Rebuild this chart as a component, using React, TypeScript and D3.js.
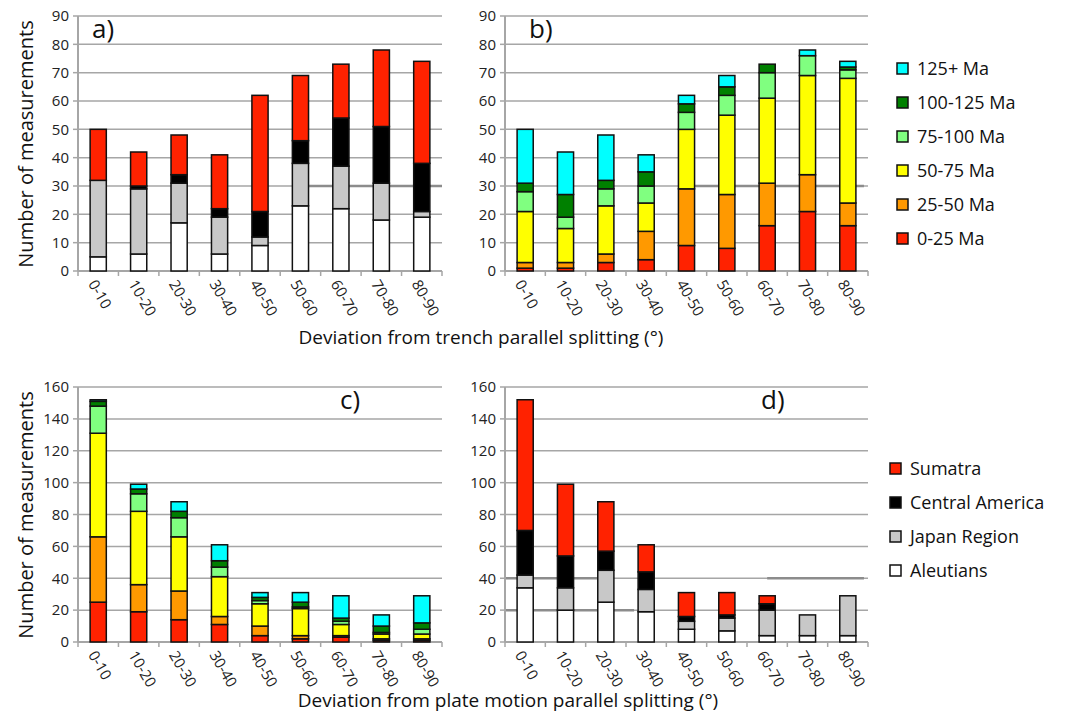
import React from "react";
import * as d3 from "d3";

// bins of deviation angle
const bins = ["0-10", "10-20", "20-30", "30-40", "40-50", "50-60", "60-70", "70-80", "80-90"];

// panel a: trench parallel, by region
const aleutiansA = [5, 6, 17, 6, 9, 23, 22, 18, 19];
const japanA = [27, 23, 14, 13, 3, 15, 15, 13, 2];
const centralAmericaA = [0, 1, 3, 3, 9, 8, 17, 20, 17];
const sumatraA = [18, 12, 14, 19, 41, 23, 19, 27, 36];

// panel b: trench parallel, by slab age
const age0_25B = [1, 1, 3, 4, 9, 8, 16, 21, 16];
const age25_50B = [2, 2, 3, 10, 20, 19, 15, 13, 8];
const age50_75B = [18, 12, 17, 10, 21, 28, 30, 35, 44];
const age75_100B = [7, 4, 6, 6, 6, 7, 9, 7, 3];
const age100_125B = [3, 8, 3, 5, 3, 3, 3, 0, 1];
const age125B = [19, 15, 16, 6, 3, 4, 0, 2, 2];

// panel c: plate motion parallel, by slab age
const age0_25C = [25, 19, 14, 11, 4, 2, 3, 1, 1];
const age25_50C = [41, 17, 18, 5, 6, 2, 1, 1, 1];
const age50_75C = [65, 46, 34, 25, 14, 17, 7, 3, 3];
const age75_100C = [17, 11, 12, 6, 2, 1, 2, 1, 3];
const age100_125C = [3, 3, 4, 4, 2, 3, 2, 4, 4];
const age125C = [1, 3, 6, 10, 3, 6, 14, 7, 17];

// panel d: plate motion parallel, by region
const aleutiansD = [34, 20, 25, 19, 8, 7, 4, 4, 4];
const japanD = [8, 14, 20, 14, 5, 8, 16, 13, 25];
const centralAmericaD = [28, 20, 12, 11, 3, 2, 4, 0, 0];
const sumatraD = [82, 45, 31, 17, 15, 14, 5, 0, 0];

const ageLabels = ["0-25 Ma", "25-50 Ma", "50-75 Ma", "75-100 Ma", "100-125 Ma", "125+ Ma"];
const ageColors = ["#ff2200", "#ff9900", "#ffff00", "#80ff80", "#008000", "#00ffff"];
const regionLabels = ["Aleutians", "Japan Region", "Central America", "Sumatra"];
const regionColors = ["#ffffff", "#c8c8c8", "#000000", "#ff2200"];

const FONT = "'Open Sans', sans-serif";

type Series = { key: string; values: number[]; color: string };

const mk = (labels: string[], colors: string[], vals: number[][]): Series[] =>
  labels.map((key, i) => ({ key, values: vals[i], color: colors[i] }));

const seriesA = mk(regionLabels, regionColors, [aleutiansA, japanA, centralAmericaA, sumatraA]);
const seriesB = mk(ageLabels, ageColors, [age0_25B, age25_50B, age50_75B, age75_100B, age100_125B, age125B]);
const seriesC = mk(ageLabels, ageColors, [age0_25C, age25_50C, age50_75C, age75_100C, age100_125C, age125C]);
const seriesD = mk(regionLabels, regionColors, [aleutiansD, japanD, centralAmericaD, sumatraD]);

function Panel({ left, top, width, height, yMax, yStep, series, label, labelX, stray }: {
  left: number; top: number; width: number; height: number; yMax: number; yStep: number;
  series: Series[]; label: string; labelX: number; stray: [number, number, number][];
}) {
  const x = d3.scaleBand().domain(bins).range([0, width]).paddingInner(0.6).paddingOuter(0.3);
  const step = width / bins.length;
  const y = d3.scaleLinear().domain([0, yMax]).range([height, 0]);
  const rows = bins.map((b, i) => {
    const r: any = { bin: b };
    series.forEach((s) => (r[s.key] = s.values[i]));
    return r;
  });
  const stack = d3.stack().keys(series.map((s) => s.key))(rows);
  const ticks = d3.range(0, yMax + 1, yStep);
  return (
    <g transform={`translate(${left},${top})`}>
      {ticks.map((t) => (
        <g key={t}>
          {t > 0 && <line x1={0} x2={width} y1={y(t)} y2={y(t)} stroke="#a6a6a6" strokeWidth={1.5} />}
          <line x1={-5} x2={0} y1={y(t)} y2={y(t)} stroke="#a6a6a6" strokeWidth={1.5} />
          <text x={-9} y={y(t)} dy="0.35em" textAnchor="end" fontSize={15} fontFamily={FONT} fill="#222">{t}</text>
        </g>
      ))}
      {stray.map(([v, a, b], i) => (
        <line key={i} x1={a * step} x2={b * step} y1={y(v)} y2={y(v)} stroke="#8c8c8c" strokeWidth={2.5} />
      ))}
      <line x1={0} x2={0} y1={0} y2={height} stroke="#a6a6a6" strokeWidth={2} />
      <line x1={0} x2={width} y1={height} y2={height} stroke="#a6a6a6" strokeWidth={2} />
      {d3.range(0, bins.length + 1).map((i) => (
        <line key={i} x1={i * step} x2={i * step} y1={height} y2={height + 5} stroke="#a6a6a6" strokeWidth={1.5} />
      ))}
      {stack.map((layer, si) => (
        <g key={layer.key} fill={series[si].color} stroke="#111" strokeWidth={1.5}>
          {layer.map((d, i) =>
            d[1] - d[0] > 0 ? (
              <rect key={i} x={x(bins[i])} width={x.bandwidth()} y={y(d[1])} height={y(d[0]) - y(d[1])} />
            ) : null
          )}
        </g>
      ))}
      {bins.map((b) => (
        <text key={b} transform={`translate(${(x(b) as number) + x.bandwidth() / 2 - 6},${height + 10}) rotate(60)`}
          dy="0.35em" fontSize={15} fontFamily={FONT} fill="#222">{b}</text>
      ))}
      <text x={labelX} y={22} fontSize={26} fontFamily={FONT} fill="#111">{label}</text>
    </g>
  );
}

function Legend({ x, y, labels, colors }: { x: number; y: number; labels: string[]; colors: string[] }) {
  return (
    <g transform={`translate(${x},${y})`}>
      {labels.map((l, i) => (
        <g key={l} transform={`translate(0,${i * 34})`}>
          <rect x={0} y={-6} width={11} height={11} fill={colors[i]} stroke="#111" strokeWidth={1.5} />
          <text x={20} y={0} dy="0.35em" fontSize={18} fontFamily={FONT} fill="#111">{l}</text>
        </g>
      ))}
    </g>
  );
}

export default function App() {
  const W = 364;
  return (
    <svg width={1077} height={716} style={{ position: "absolute", left: 0, top: 0, background: "#fff" }}>
      <Panel left={78} top={16} width={W} height={255} yMax={90} yStep={10} series={seriesA} label="a)" labelX={14} stray={[[30, 5.7, 9]]} />
      <Panel left={505} top={16} width={W - 1} height={255} yMax={90} yStep={10} series={seriesB} label="b)" labelX={24} stray={[[30, 4.4, 8.9]]} />
      <Panel left={78} top={387} width={W} height={255} yMax={160} yStep={20} series={seriesC} label="c)" labelX={262} stray={[]} />
      <Panel left={505} top={387} width={W - 1} height={255} yMax={160} yStep={20} series={seriesD} label="d)" labelX={256} stray={[[40, 6.5, 8.9], [40, 0, 2.6], [20, 0, 3.2]]} />
      <text transform="translate(33,144) rotate(-90)" textAnchor="middle" fontSize={20} fontFamily={FONT} fill="#111">Number of measurements</text>
      <text transform="translate(33,515) rotate(-90)" textAnchor="middle" fontSize={20} fontFamily={FONT} fill="#111">Number of measurements</text>
      <text x={481} y={344} textAnchor="middle" fontSize={19} fontFamily={FONT} fill="#111">Deviation from trench parallel splitting (°)</text>
      <text x={508} y={707} textAnchor="middle" fontSize={19} fontFamily={FONT} fill="#111">Deviation from plate motion parallel splitting (°)</text>
      <Legend x={897} y={69} labels={[...ageLabels].reverse()} colors={[...ageColors].reverse()} />
      <Legend x={890} y={469} labels={[...regionLabels].reverse()} colors={[...regionColors].reverse()} />
    </svg>
  );
}
